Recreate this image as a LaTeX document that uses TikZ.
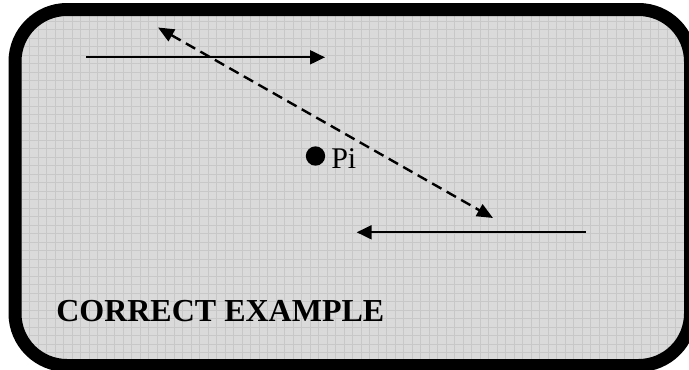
\documentclass[tikz,border=0pt]{standalone}
\usepackage{fontspec}
\setmainfont{Liberation Serif}
\usetikzlibrary{arrows.meta}
\definecolor{boxfill}{HTML}{DADADA}
\definecolor{gridline}{HTML}{C8C8C8}
\tikzset{
  frame/.style={draw=black, line width=9.75pt, rounded corners=39pt},
  solidarrow/.style={line width=1.5pt, -{Triangle[length=11.25pt,width=10.5pt]}},
  dasharrow/.style={line width=1.8pt, dash pattern=on 8pt off 4.5pt,
     {Triangle[length=12pt,width=10pt]}-{Triangle[length=12pt,width=10pt]}},
  label/.style={inner sep=0pt, anchor=base west, text=black},
  dotstyle/.style={circle, fill=black, minimum size=14.5pt, inner sep=0pt}
}
\begin{document}
\begin{tikzpicture}[x=0.75pt,y=-0.75pt]
\useasboundingbox (0,0) rectangle (689,369);
\fill[white] (0,0) rectangle (689,369);
\begin{scope}
  \clip[rounded corners=39pt] (15,9.5) rectangle (690.5,365.5);
  \fill[boxfill] (0,0) rectangle (700,380);
  \foreach \x in {4,12.5,...,700} \draw[gridline, line width=0.7pt] (\x,0) -- (\x,380);
  \foreach \y in {4,12.5,...,380} \draw[gridline, line width=0.7pt] (0,\y) -- (700,\y);
\end{scope}
\draw[frame] (15,9.5) rectangle (690.5,365.5);

\coordinate (a1s) at (86,57.3);
\coordinate (a1e) at (325,57.3);
\coordinate (a2s) at (585.7,232.3);
\coordinate (a2e) at (356.7,232.3);
\coordinate (d1) at (158,27.5);
\coordinate (d2) at (493,218);

\draw[solidarrow] (a1s) -- (a1e);
\draw[solidarrow] (a2s) -- (a2e);
\draw[dasharrow] (d1) -- (d2);

\node[dotstyle] (dot) at (315.5,156) {};
\node[label, font=\fontsize{22.5}{27}\selectfont] (pi) at (331,168) {Pi};
\node[label, font=\bfseries\fontsize{24}{29}\selectfont] (title) at (56,321) {CORRECT EXAMPLE};
\end{tikzpicture}
\end{document}
